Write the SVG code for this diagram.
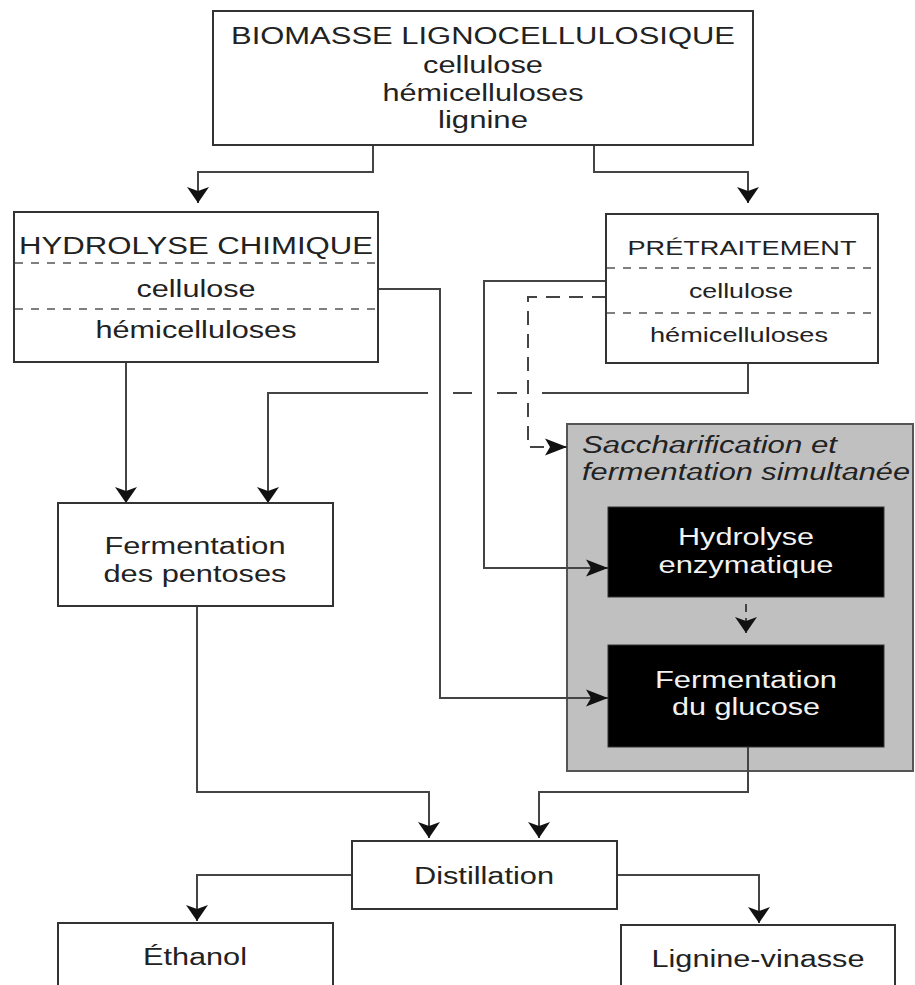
<svg xmlns="http://www.w3.org/2000/svg" width="915" height="985" viewBox="0 0 915 985">
<style>
.box{fill:#fff;stroke:#333;stroke-width:2}
.t{font-family:"Liberation Sans",Arial,sans-serif;font-size:23px;fill:#222;text-anchor:middle}
.s{font-size:20px}
.w{fill:#f2f2f2}
.i{font-style:italic;text-anchor:start}
.sep{stroke:#555;stroke-width:1.6;stroke-dasharray:8 8;fill:none}
.c{fill:none;stroke:#444;stroke-width:2}
.d{stroke-dasharray:14 9}
</style>
<defs>
<marker id="arrV" markerUnits="userSpaceOnUse" markerWidth="18" markerHeight="24" refX="16" refY="11" orient="auto" overflow="visible">
<path d="M0,0 L16,11 L0,22 L4,11 z" fill="#111"/>
</marker>
<marker id="arrH" markerUnits="userSpaceOnUse" markerWidth="24" markerHeight="18" refX="22" refY="8.5" orient="auto" overflow="visible">
<path d="M0,0 L22,8.5 L0,17 L5,8.5 z" fill="#111"/>
</marker>
</defs>

<g id="sfs">
<rect x="567" y="424" width="346" height="347" fill="#c0c0c0" stroke="#555" stroke-width="2"/>
<text class="t i" x="582" y="453" textLength="255" lengthAdjust="spacingAndGlyphs">Saccharification et</text>
<text class="t i" x="582" y="480" textLength="328" lengthAdjust="spacingAndGlyphs">fermentation simultanée</text>
</g>

<g id="connectors">
<path class="c" d="M373,145 V172 H198 V203" marker-end="url(#arrV)"/>
<path class="c" d="M594,145 V172 H748 V203" marker-end="url(#arrV)"/>
<path class="c" d="M126,362 V503" marker-end="url(#arrV)"/>
<path class="c" d="M748,363 V393 H542 M517,393 H497 M472,393 H453"/>
<path class="c" d="M428,393 H268 V503" marker-end="url(#arrV)"/>
<path class="c" d="M378,289 H440 V698 H608" marker-end="url(#arrH)"/>
<path class="c" d="M606,281 H484 V568 H608" marker-end="url(#arrH)"/>
<path class="c d" d="M606,297 H528 V447 H567" marker-end="url(#arrH)"/>
<path class="c" d="M746,604 V633" stroke-dasharray="8 6" marker-end="url(#arrV)"/>
<path class="c" d="M197,606 V792 H429 V838" marker-end="url(#arrV)"/>
<path class="c" d="M748,747 V792 H539 V838" marker-end="url(#arrV)"/>
<path class="c" d="M352,875 H197 V921" marker-end="url(#arrV)"/>
<path class="c" d="M617,875 H759 V923" marker-end="url(#arrV)"/>
</g>

<g id="biomasse">
<rect class="box" x="213" y="11" width="540" height="134"/>
<text class="t" x="483" y="44" textLength="504" lengthAdjust="spacingAndGlyphs">BIOMASSE LIGNOCELLULOSIQUE</text>
<text class="t" x="483" y="73" textLength="120" lengthAdjust="spacingAndGlyphs">cellulose</text>
<text class="t" x="483" y="101" textLength="201" lengthAdjust="spacingAndGlyphs">hémicelluloses</text>
<text class="t" x="483" y="128" textLength="90" lengthAdjust="spacingAndGlyphs">lignine</text>
</g>

<g id="hydrolyse-chimique">
<rect class="box" x="14" y="212" width="364" height="150"/>
<text class="t" x="196" y="254" textLength="354" lengthAdjust="spacingAndGlyphs">HYDROLYSE CHIMIQUE</text>
<line class="sep" x1="15" y1="263" x2="377" y2="263"/>
<text class="t" x="196" y="297" textLength="119" lengthAdjust="spacingAndGlyphs">cellulose</text>
<line class="sep" x1="15" y1="309" x2="377" y2="309"/>
<text class="t" x="196" y="338" textLength="201" lengthAdjust="spacingAndGlyphs">hémicelluloses</text>
</g>

<g id="pretraitement">
<rect class="box" x="606" y="214" width="272" height="149"/>
<text class="t s" x="742" y="255" textLength="229" lengthAdjust="spacingAndGlyphs">PRÉTRAITEMENT</text>
<line class="sep" x1="607" y1="268" x2="877" y2="268"/>
<text class="t s" x="741" y="298" textLength="104" lengthAdjust="spacingAndGlyphs">cellulose</text>
<line class="sep" x1="607" y1="313" x2="877" y2="313"/>
<text class="t s" x="739" y="342" textLength="178" lengthAdjust="spacingAndGlyphs">hémicelluloses</text>
</g>

<g id="fermentation-pentoses">
<rect class="box" x="58" y="503" width="275" height="103"/>
<text class="t" x="195" y="554" textLength="181" lengthAdjust="spacingAndGlyphs">Fermentation</text>
<text class="t" x="195" y="582" textLength="183" lengthAdjust="spacingAndGlyphs">des pentoses</text>
</g>

<g id="hydrolyse-enzymatique">
<rect x="608" y="507" width="276" height="90" fill="#000" stroke="#333" stroke-width="1"/>
<text class="t w" x="746" y="545" textLength="136" lengthAdjust="spacingAndGlyphs">Hydrolyse</text>
<text class="t w" x="746" y="573" textLength="175" lengthAdjust="spacingAndGlyphs">enzymatique</text>
</g>

<g id="fermentation-glucose">
<rect x="608" y="645" width="276" height="102" fill="#000" stroke="#333" stroke-width="1"/>
<text class="t w" x="746" y="688" textLength="182" lengthAdjust="spacingAndGlyphs">Fermentation</text>
<text class="t w" x="746" y="715" textLength="148" lengthAdjust="spacingAndGlyphs">du glucose</text>
</g>

<g id="distillation">
<rect class="box" x="352" y="841" width="265" height="68"/>
<text class="t" x="484" y="884" textLength="140" lengthAdjust="spacingAndGlyphs">Distillation</text>
</g>

<g id="ethanol">
<rect class="box" x="58" y="923" width="275" height="80"/>
<text class="t" x="195" y="965" textLength="104" lengthAdjust="spacingAndGlyphs">Éthanol</text>
</g>

<g id="lignine-vinasse">
<rect class="box" x="621" y="925" width="274" height="80"/>
<text class="t" x="758" y="967" textLength="213" lengthAdjust="spacingAndGlyphs">Lignine-vinasse</text>
</g>
</svg>
